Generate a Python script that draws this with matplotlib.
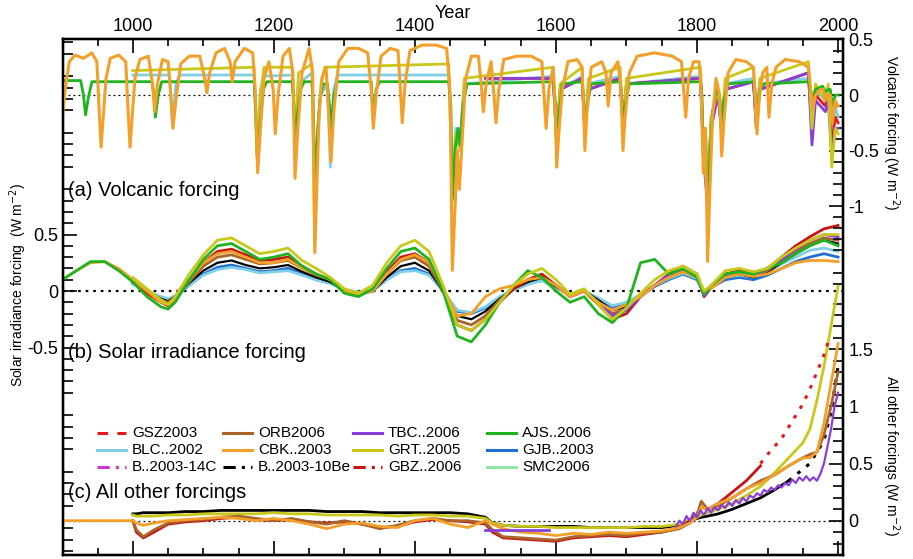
import matplotlib
matplotlib.use('Agg')
import matplotlib.pyplot as plt
from matplotlib.lines import Line2D

plt.rcParams['font.family'] = ['Liberation Sans', 'DejaVu Sans']

# ---------------- colours ----------------
C_GSZ = '#e41a1c'
C_ORB = '#a8642a'
C_TBC = '#8a3fd8'
C_AJS = '#1fb41f'
C_BLC = '#7fcfe6'
C_CBK = '#f3a02a'
C_GRT = '#c8c81a'
C_GJB = '#1f6fd0'
C_B14 = '#cc33cc'
C_B10 = '#000000'
C_GBZ = '#c81414'
C_SMC = '#8fe6a8'

# ================= (a) volcanic forcing (W m-2) =================
vol_cbk_yr = [900, 904, 910, 918, 930, 942, 949, 952, 955, 958, 962, 968, 980, 990, 993, 996, 999, 1003, 1010, 1022,
              1028, 1031, 1035, 1042, 1050, 1054, 1057, 1061, 1068, 1080, 1095, 1102, 1105, 1109, 1118, 1130, 1138,
              1141, 1145, 1158, 1170, 1174, 1177, 1181, 1186, 1193, 1199, 1202, 1206, 1213, 1222, 1227, 1230, 1234,
              1240, 1250, 1255, 1258, 1261, 1264, 1268, 1274, 1278, 1281, 1285, 1292, 1305, 1320, 1333, 1338, 1341,
              1345, 1352, 1365, 1376, 1379, 1382, 1386, 1393, 1410, 1430, 1445, 1450, 1453, 1457, 1460, 1463, 1467,
              1472, 1480, 1490, 1494, 1497, 1501, 1508, 1512, 1515, 1519, 1526, 1545, 1565, 1580, 1583, 1586, 1590,
              1596, 1599, 1601, 1604, 1609, 1617, 1630, 1637, 1639, 1641, 1644, 1650, 1665, 1671, 1674, 1678, 1688,
              1692, 1695, 1698, 1704, 1715, 1740, 1765, 1778, 1781, 1784, 1788, 1795, 1803, 1806, 1809, 1812, 1815,
              1818, 1822, 1827, 1832, 1835, 1838, 1844, 1855, 1870, 1880, 1883, 1885, 1888, 1893, 1899, 1902, 1906,
              1912, 1925, 1945, 1958, 1962, 1964, 1968, 1975, 1979, 1982, 1985, 1989, 1992, 1996, 2000]
vol_cbk = [-0.22, 0.05, 0.3, 0.36, 0.33, 0.38, 0.3, -0.1, -0.47, -0.2, 0.15, 0.33, 0.36, 0.3, -0.1, -0.47, -0.2, 0.15,
           0.32, 0.35, 0.1, -0.15, 0.1, 0.32, 0.3, 0.0, -0.3, -0.05, 0.28, 0.35, 0.35, 0.15, 0.02, 0.2, 0.38, 0.42, 0.3,
           0.12, 0.3, 0.42, 0.38, 0.0, -0.7, -0.3, 0.15, 0.3, 0.05, -0.35, 0.0, 0.35, 0.42, 0.2, -0.75, -0.3,
           0.2, 0.42, 0.2, -1.42, -0.8, -0.2, 0.15, 0.25, -0.2, -0.6, -0.15, 0.3, 0.42, 0.42, 0.38, 0.05, -0.3,
           0.0, 0.35, 0.42, 0.4, 0.1, -0.25, 0.1, 0.4, 0.45, 0.45, 0.42, 0.0, -1.58, -1.0, -0.5, -0.85, -0.4,
           0.15, 0.35, 0.35, 0.1, -0.15, 0.1, 0.3, 0.0, -0.25, 0.05, 0.32, 0.35, 0.35, 0.3, 0.0, -0.3, 0.05,
           0.25, -0.1, -0.65, -0.35, 0.05, 0.3, 0.32, 0.25, -0.1, -0.5, -0.15, 0.25, 0.3, 0.2, -0.1, 0.2, 0.3,
           0.05, -0.5, -0.2, 0.2, 0.35, 0.38, 0.35, 0.3, 0.05, -0.2, 0.15, 0.3, 0.3, 0.0, -0.7, -0.3, -1.5,
           -0.9, -0.2, 0.15, 0.0, -0.55, -0.25, 0.2, 0.32, 0.3, 0.25, -0.05, -0.35, -0.05, 0.2, 0.25, -0.2, 0.1,
           0.25, 0.32, 0.3, 0.25, 0.0, -0.12, 0.0, 0.05, 0.05, -0.05, 0.0, 0.0, -0.25, -0.05, -0.1]

vol_ajs_yr = [900, 926, 930, 933, 937, 942, 1027, 1030, 1032, 1036, 1041, 1172, 1174, 1177, 1180, 1185, 1190, 1226, 1228,
              1230, 1233, 1238, 1243, 1254, 1256, 1258, 1261, 1265, 1270, 1276, 1279, 1281, 1285, 1290, 1338, 1341, 1345,
              1350, 1448, 1451, 1453, 1457, 1461, 1464, 1468, 1474, 1596, 1599, 1601, 1604, 1609, 1637, 1639, 1641, 1644,
              1650, 1691, 1693, 1695, 1698, 1704, 1805, 1807, 1809, 1812, 1815, 1818, 1822, 1828, 1832, 1835, 1838, 1844,
              1881, 1883, 1885, 1889, 1895, 1958, 1962, 1964, 1968, 1978, 1982, 1986, 1989, 1992, 1996, 2000]
vol_ajs = [0.13, 0.13, 0.0, -0.18, -0.02, 0.12, 0.12, 0.0, -0.2, 0.0, 0.12, 0.12, -0.1, -0.65, -0.3, 0.05, 0.12, 0.12,
           -0.05, -0.45, -0.2, 0.05, 0.12, 0.12, -0.1, -0.8, -0.45, -0.05, 0.1, 0.1, -0.1, -0.3, 0.0, 0.12, 0.12, -0.2,
           0.05, 0.12, 0.12, -0.1, -0.95, -0.5, -0.3, -0.45, -0.1, 0.1, 0.12, -0.05, -0.45, -0.2, 0.1, 0.12, -0.05,
           -0.35, -0.1, 0.1, 0.12, 0.0, -0.3, -0.1, 0.1, 0.12, 0.0, -0.55, -0.3, -1.0, -0.6, -0.15, 0.05, 0.0, -0.25,
           -0.05, 0.1, 0.12, 0.0, -0.2, 0.05, 0.1, 0.12, 0.02, -0.05, 0.05, 0.08, 0.03, 0.05, 0.05, -0.1, 0.0, 0.0]

vol_blc_yr = [1000, 1052, 1056, 1061, 1066, 1172, 1176, 1181, 1186, 1226, 1230, 1235, 1254, 1258, 1262, 1266, 1276, 1280,
              1285, 1290, 1448, 1453, 1458, 1464, 1470, 1596, 1601, 1606, 1637, 1641, 1646, 1691, 1695, 1700, 1805, 1809,
              1815, 1820, 1830, 1835, 1840, 1880, 1884, 1889, 1958, 1963, 1968, 1982, 1986, 1991, 1996, 2000]
vol_blc = [0.18, 0.18, -0.28, 0.1, 0.18, 0.18, -0.5, 0.05, 0.17, 0.18, -0.4, 0.1, 0.2, -0.9, -0.3, 0.0, 0.1, -0.65,
           0.05, 0.18, 0.18, -0.75, -0.3, -0.4, 0.1, 0.17, -0.45, 0.05, 0.17, -0.35, 0.1, 0.17, -0.3, 0.1, 0.17, -0.5,
           -0.85, -0.2, 0.0, -0.3, 0.1, 0.15, -0.25, 0.1, 0.15, -0.22, 0.05, -0.05, 0.0, -0.32, -0.1, -0.2]

vol_grt_yr = [1000, 1172, 1176, 1181, 1186, 1226, 1230, 1235, 1254, 1258, 1262, 1267, 1272, 1448, 1453, 1458, 1464, 1470,
              1596, 1601, 1606, 1637, 1641, 1646, 1691, 1695, 1700, 1805, 1809, 1815, 1820, 1830, 1835, 1840, 1880, 1884,
              1889, 1958, 1963, 1968, 1982, 1986, 1991, 1996, 2000]
vol_grt = [0.22, 0.25, -0.55, 0.0, 0.25, 0.25, -0.35, 0.2, 0.28, -1.35, -0.4, 0.1, 0.25, 0.28, -0.9, -0.35, -0.5, 0.15,
           0.25, -0.5, 0.1, 0.25, -0.35, 0.15, 0.25, -0.3, 0.15, 0.25, -0.45, -0.95, -0.2, 0.05, -0.3, 0.15, 0.25, -0.3,
           0.15, 0.3, -0.3, 0.1, -0.05, 0.1, -0.65, -0.3, -0.35]

vol_tbc_yr = [1500, 1596, 1601, 1606, 1637, 1641, 1646, 1691, 1695, 1700, 1805, 1809, 1815, 1820, 1830, 1835, 1840, 1880,
              1884, 1889, 1958, 1963, 1968, 1982, 1986, 1991, 1996, 2000]
vol_tbc = [0.15, 0.15, -0.4, 0.05, 0.15, -0.3, 0.05, 0.15, -0.3, 0.1, 0.15, -0.55, -1.0, -0.3, 0.0, -0.35, 0.05, 0.12,
           -0.3, 0.05, 0.2, -0.45, -0.05, -0.15, -0.05, -0.52, -0.3, -0.3]

vol_gsz_yr = [1500, 1596, 1601, 1606, 1637, 1641, 1646, 1691, 1695, 1700, 1805, 1809, 1815, 1820, 1830, 1835, 1840, 1880,
              1884, 1889, 1958, 1963, 1968, 1982, 1986, 1991, 1996, 2000]
vol_gsz = [0.15, 0.15, -0.35, 0.05, 0.15, -0.3, 0.05, 0.15, -0.25, 0.1, 0.15, -0.5, -0.9, -0.25, 0.0, -0.3, 0.05, 0.12,
           -0.25, 0.05, 0.2, -0.32, 0.0, -0.1, 0.0, -0.45, -0.2, -0.25]

# ================= (b) solar irradiance forcing (W m-2) =================
sol_yr = [900, 920, 940, 960, 980, 1000, 1020, 1040, 1050, 1060, 1080, 1100, 1120, 1140, 1160, 1180, 1200, 1220, 1240,
          1260, 1280, 1300, 1320, 1340, 1360, 1380, 1400, 1420, 1440, 1460, 1480, 1500, 1520, 1540, 1560, 1580, 1600,
          1620, 1640, 1660, 1680, 1700, 1720, 1740, 1760, 1780, 1800, 1810, 1820, 1840, 1860, 1880, 1900, 1920,
          1940, 1960, 1980, 2000]
NA5 = [None] * 5
sol_cbk = [0.1, 0.18, 0.25, 0.26, 0.2, 0.1, 0.0, -0.1, -0.12, -0.08, 0.1, 0.25, 0.33, 0.35, 0.3, 0.25, 0.25, 0.28, 0.2,
           0.15, 0.1, 0.0, -0.03, 0.0, 0.15, 0.28, 0.32, 0.25, 0.02, -0.22, -0.2, -0.05, 0.02, 0.05, 0.1, 0.12, 0.05,
           -0.05, 0.0, -0.1, -0.17, -0.12, -0.05, 0.05, 0.12, 0.17, 0.12, 0.0, 0.02, 0.12, 0.15, 0.13, 0.15, 0.2,
           0.25, 0.27, 0.27, 0.26]
sol_ajs = [0.1, 0.18, 0.26, 0.26, 0.18, 0.08, -0.05, -0.14, -0.16, -0.1, 0.1, 0.28, 0.4, 0.42, 0.35, 0.28, 0.3, 0.33, 0.22,
           0.15, 0.1, -0.02, -0.05, 0.02, 0.2, 0.35, 0.38, 0.28, 0.0, -0.4, -0.45, -0.3, -0.1, 0.05, 0.18, 0.12, 0.0,
           -0.1, -0.05, -0.2, -0.28, -0.15, 0.25, 0.28, 0.15, 0.2, 0.12, -0.03, 0.05, 0.15, 0.17, 0.15, 0.2, 0.25,
           0.33, 0.4, 0.45, 0.4]
sol_grt = NA5 + [0.12, 0.02, -0.08, -0.12, -0.05, 0.15, 0.32, 0.45, 0.47, 0.4, 0.33, 0.35, 0.38, 0.27,
                 0.2, 0.12, 0.02, -0.02, 0.05, 0.25, 0.4, 0.45, 0.35, 0.05, -0.3, -0.35, -0.25, -0.1, 0.05, 0.15, 0.2, 0.1,
                 -0.03, 0.02, -0.12, -0.25, -0.15, -0.02, 0.1, 0.18, 0.22, 0.15, 0.0, 0.05, 0.18, 0.2, 0.17, 0.2, 0.3,
                 0.38, 0.45, 0.5, 0.5]
sol_gbz = NA5 + [0.08, -0.02, -0.1, -0.13, -0.08, 0.1, 0.25, 0.35, 0.37, 0.32, 0.27, 0.28, 0.3, 0.22,
                 0.15, 0.1, 0.0, -0.03, 0.0, 0.17, 0.3, 0.33, 0.25, 0.0, -0.3, -0.35, -0.25, -0.1, 0.02, 0.1, 0.15, 0.05,
                 -0.05, 0.0, -0.12, -0.25, -0.2, -0.05, 0.05, 0.15, 0.22, 0.15, -0.05, 0.03, 0.15, 0.18, 0.15, 0.2, 0.3,
                 0.4, 0.48, 0.55, 0.58]
sol_orb = NA5 + [0.08, 0.0, -0.08, -0.1, -0.06, 0.08, 0.22, 0.3, 0.32, 0.28, 0.24, 0.25, 0.27, 0.2,
                 0.14, 0.1, 0.01, -0.02, 0.0, 0.15, 0.27, 0.3, 0.22, 0.0, -0.26, -0.3, -0.22, -0.08, 0.02, 0.1, 0.14, 0.05,
                 -0.04, 0.0, -0.1, -0.2, -0.16, -0.04, 0.05, 0.13, 0.2, 0.13, -0.03, 0.03, 0.13, 0.16, 0.13, 0.18, 0.27,
                 0.35, 0.42, 0.47, 0.45]
sol_b10 = NA5 + [0.08, 0.0, -0.07, -0.09, -0.05, 0.07, 0.18, 0.25, 0.27, 0.23, 0.2, 0.21, 0.23, 0.17,
                 0.12, 0.08, 0.01, -0.02, 0.0, 0.12, 0.22, 0.25, 0.18, 0.0, -0.22, -0.25, -0.18, -0.07, 0.02, 0.08, 0.12, 0.04,
                 -0.04, 0.0, -0.08, -0.17, -0.14, -0.04, 0.05, 0.12, 0.18, 0.12, -0.02, 0.03, 0.12, 0.15, 0.12, 0.17, 0.25,
                 0.33, 0.4, 0.45, 0.42]
sol_gjb = NA5 + [0.07, 0.0, -0.06, -0.08, -0.05, 0.05, 0.15, 0.21, 0.23, 0.2, 0.17, 0.18, 0.2, 0.15,
                 0.1, 0.07, 0.01, -0.02, 0.0, 0.1, 0.18, 0.2, 0.15, 0.0, -0.18, -0.2, -0.15, -0.06, 0.01, 0.06, 0.1, 0.03,
                 -0.03, 0.0, -0.07, -0.14, -0.12, -0.04, 0.04, 0.1, 0.15, 0.1, -0.02, 0.03, 0.1, 0.12, 0.1, 0.14, 0.2,
                 0.26, 0.3, 0.33, 0.3]
sol_blc = NA5 + [0.06, 0.0, -0.05, -0.07, -0.04, 0.05, 0.14, 0.19, 0.21, 0.19, 0.16, 0.17, 0.18, 0.14,
                 0.1, 0.07, 0.01, -0.01, 0.0, 0.1, 0.17, 0.18, 0.14, 0.0, -0.17, -0.19, -0.14, -0.05, 0.01, 0.06, 0.09, 0.03,
                 -0.03, 0.0, -0.06, -0.13, -0.1, -0.03, 0.05, 0.11, 0.16, 0.11, -0.01, 0.04, 0.12, 0.14, 0.12, 0.17, 0.24,
                 0.3, 0.36, 0.38, 0.35]
sol_tbc = [None] * 37 + [-0.05, 0.0, -0.1, -0.22, -0.17, -0.05, 0.05, 0.14, 0.2, 0.13, -0.04, 0.03, 0.14, 0.17, 0.14,
                         0.2, 0.28, 0.37, 0.45, 0.5, 0.48]

# ================= (c) all other forcings (W m-2) =================
oth_yr = [900, 1000, 1005, 1015, 1030, 1050, 1075, 1100, 1125, 1150, 1175, 1200, 1225, 1250, 1275, 1300, 1325, 1350,
          1375, 1400, 1425, 1450, 1475, 1500, 1510, 1525, 1550, 1575, 1600, 1625, 1650, 1675, 1700, 1725, 1750, 1775,
          1790, 1800, 1806, 1815, 1830, 1850, 1870, 1890, 1910, 1930, 1950, 1960, 1970, 1980, 1990, 2000]
oth_cbk = [0.0, 0.0, -0.02, -0.04, -0.02, 0.0, 0.01, 0.02, 0.03, 0.02, 0.0, 0.02, 0.0, -0.03, -0.07, -0.03, -0.02, -0.05,
           -0.06, 0.0, 0.02, -0.03, -0.06, 0.0, -0.03, -0.07, -0.1, -0.11, -0.13, -0.11, -0.12, -0.1, -0.11, -0.1, -0.09,
           -0.06, -0.02, 0.03, 0.12, 0.1, 0.15, 0.2, 0.28, 0.33, 0.4, 0.48, 0.55, 0.55, 0.6, 0.85, 1.2, 1.55]
oth_orb = [None, 0.0, -0.08, -0.14, -0.08, -0.02, 0.0, 0.01, 0.03, 0.04, 0.02, 0.0, 0.02, -0.01, -0.03, 0.0, -0.03, -0.07,
           -0.04, 0.0, 0.02, 0.0, 0.0, -0.02, -0.08, -0.14, -0.15, -0.16, -0.17, -0.14, -0.13, -0.12, -0.13, -0.11, -0.1,
           -0.07, -0.02, 0.05, 0.17, 0.1, 0.13, 0.2, 0.28, 0.35, 0.4, 0.48, 0.55, 0.58, 0.6, 0.75, 1.0, 1.3]
oth_gbz = [None, 0.0, -0.1, -0.15, -0.1, -0.03, -0.01, 0.0, 0.02, 0.03, 0.01, 0.0, 0.01, -0.01, -0.02, -0.01, -0.03,
           -0.06, -0.05, -0.01, 0.01, 0.0, -0.01, -0.03, -0.1, -0.15, -0.16, -0.17, -0.18, -0.15, -0.14, -0.13, -0.14,
           -0.12, -0.1, -0.06, 0.0, 0.06, 0.12, 0.1, 0.15, 0.25, 0.35, 0.48] + [None] * 8
oth_b10 = [None, 0.06, 0.06, 0.07, 0.07, 0.07, 0.08, 0.08, 0.09, 0.09, 0.09, 0.09, 0.09, 0.09, 0.08, 0.08, 0.08, 0.07,
           0.07, 0.07, 0.07, 0.07, 0.06, 0.03, -0.02, -0.04, -0.05, -0.05, -0.05, -0.05, -0.06, -0.06, -0.06, -0.06,
           -0.06, -0.04, 0.0, 0.02, 0.03, 0.04, 0.06, 0.1, 0.15, 0.2, 0.27, 0.35] + [None] * 6
oth_b10_late_yr = [1930, 1950, 1960, 1970, 1980, 1990, 2000]
oth_b10_late = [0.35, 0.45, 0.5, 0.6, 0.7, 0.95, 1.35]
oth_grt = [None, 0.05, 0.04, 0.04, 0.04, 0.05, 0.05, 0.06, 0.06, 0.06, 0.06, 0.07, 0.06, 0.06, 0.05, 0.05, 0.05, 0.05,
           0.04, 0.05, 0.05, 0.04, 0.04, 0.02, -0.02, -0.04, -0.05, -0.05, -0.06, -0.06, -0.06, -0.06, -0.06, -0.05,
           -0.05, -0.03, 0.01, 0.03, 0.05, 0.07, 0.1, 0.15, 0.22, 0.3, 0.42, 0.55, 0.68, 0.8, 1.05, 1.35, 1.7, 2.05]
oth_gsz_yr = [1890, 1900, 1910, 1920, 1930, 1940, 1950, 1960, 1970, 1980, 1988]
oth_gsz = [0.5, 0.58, 0.65, 0.72, 0.82, 0.92, 1.02, 1.15, 1.3, 1.45, 1.6]
oth_tbc_early_yr = [1500, 1590]
oth_tbc_early = [-0.08, -0.08]
oth_tbc_yr = [1770, 1775, 1780, 1785, 1790, 1795, 1800, 1805, 1810, 1815, 1820, 1825, 1830, 1835, 1840, 1845, 1850,
              1855, 1860, 1865, 1870, 1875, 1880, 1885, 1890, 1895, 1900, 1905, 1910, 1915, 1920, 1925, 1930, 1935,
              1940, 1945, 1950, 1955, 1960, 1965, 1970, 1975, 1980, 1985, 1990, 1995, 2000]
oth_tbc = [-0.05, 0.0, -0.03, 0.04, 0.0, 0.07, 0.03, 0.09, 0.05, 0.11, 0.07, 0.12, 0.09, 0.14, 0.11, 0.16, 0.13, 0.18,
           0.15, 0.2, 0.17, 0.22, 0.2, 0.24, 0.22, 0.27, 0.25, 0.29, 0.27, 0.31, 0.29, 0.33, 0.31, 0.36, 0.33, 0.38,
           0.35, 0.39, 0.35, 0.38, 0.35, 0.41, 0.5, 0.65, 0.8, 1.0, 1.12]

# ---------------- legend ----------------
leg_labels = ['GSZ2003', 'ORB2006', 'TBC..2006', 'AJS..2006',
              'BLC..2002', 'CBK..2003', 'GRT..2005', 'GJB..2003',
              'B..2003-14C', 'B..2003-10Be', 'GBZ..2006', 'SMC2006']
leg_colors = [C_GSZ, C_ORB, C_TBC, C_AJS, C_BLC, C_CBK, C_GRT, C_GJB, C_B14, C_B10, C_GBZ, C_SMC]
DD = (0, (4, 2, 1, 2, 1, 2))
DASH = (0, (3.5, 3))
leg_styles = [DASH, '-', '-', '-', '-', '-', '-', '-', DD, DD, DD, '-']

# ================= figure =================
W, H = 913, 559
L, R, T, B = 63, 843, 39, 555
fig = plt.figure(figsize=(W / 100, H / 100), dpi=100)
ax_s = fig.add_axes([L / W, 1 - B / H, (R - L) / W, (B - T) / H])
ax_v = ax_s.twinx()
ax_o = ax_s.twinx()
ax_s.set_xlim(901, 2007)
ax_s.set_ylim(-2.336, 2.230)
ax_v.set_ylim(-4.144, 0.5045)
ax_o.set_ylim(-0.300, 4.214)


def pl(ax, x, y, c, lw=2.0, ls='-', z=2):
    xx = [a for a, b in zip(x, y) if b is not None]
    yy = [b for b in y if b is not None]
    ax.plot(xx, yy, color=c, lw=lw, ls=ls, zorder=z, solid_joinstyle='round')


# (a)
pl(ax_v, vol_blc_yr, vol_blc, C_BLC)
pl(ax_v, vol_gsz_yr, vol_gsz, C_GSZ)
pl(ax_v, vol_tbc_yr, vol_tbc, C_TBC)
pl(ax_v, vol_grt_yr, vol_grt, C_GRT)
pl(ax_v, vol_ajs_yr, vol_ajs, C_AJS)
pl(ax_v, vol_cbk_yr, vol_cbk, C_CBK, z=3, lw=2.2)
# (b)
pl(ax_s, sol_yr, sol_gjb, C_GJB)
pl(ax_s, sol_yr, sol_blc, C_BLC)
pl(ax_s, sol_yr, sol_b10, C_B10, lw=1.6)
pl(ax_s, sol_yr, sol_orb, C_ORB)
pl(ax_s, sol_yr, sol_gbz, C_GBZ)
pl(ax_s, sol_yr, sol_tbc, C_TBC)
pl(ax_s, sol_yr, sol_cbk, C_CBK)
pl(ax_s, sol_yr, sol_ajs, C_AJS)
pl(ax_s, sol_yr, sol_grt, C_GRT)
# (c)
pl(ax_o, oth_yr, oth_b10, C_B10)
pl(ax_o, oth_b10_late_yr, oth_b10_late, C_B10, ls=(0, (1.2, 2.5)), lw=2.2)
pl(ax_o, oth_yr, oth_grt, C_GRT)
pl(ax_o, oth_yr, oth_gbz, C_GBZ)
pl(ax_o, oth_yr, oth_orb, C_ORB)
pl(ax_o, oth_yr, oth_cbk, C_CBK)
pl(ax_o, oth_tbc_early_yr, oth_tbc_early, C_TBC)
pl(ax_o, oth_tbc_yr, oth_tbc, C_TBC, lw=1.6)
pl(ax_o, oth_gsz_yr, oth_gsz, C_GSZ, ls=(0, (1.2, 2.5)), lw=2.2)

ax_v.axhline(0, color='k', lw=0.9, ls=(0, (1.5, 2.5)), zorder=1)
ax_s.axhline(0, color='k', lw=1.6, ls=(0, (1.2, 2.2)), zorder=1)
ax_o.axhline(0, color='k', lw=0.9, ls=(0, (1.5, 2.5)), zorder=1)

# x axis
ax_s.set_xticks([1000, 1200, 1400, 1600, 1800, 2000])
ax_s.set_xticks([y for y in range(950, 2001, 50) if y % 200 != 0], minor=True)
ax_s.tick_params(axis='x', which='both', direction='in', top=True, bottom=True, labeltop=True, labelbottom=False,
                 labelsize=13, width=1.2, pad=3)
ax_s.tick_params(axis='x', which='major', length=10)
ax_s.tick_params(axis='x', which='minor', length=5)
ax_s.xaxis.set_label_position('top')
ax_s.set_xlabel('Year', fontsize=13, labelpad=0)

# left axis (solar)
s_minor = [v / 10 for v in range(-23, 23) if v % 5 != 0]
ax_s.set_yticks([-0.5, 0, 0.5])
ax_s.set_yticklabels(['-0.5', '0', '0.5'])
ax_s.set_yticks(s_minor, minor=True)
ax_s.tick_params(axis='y', which='both', direction='in', left=True, right=False, labelsize=13, width=1.2)
ax_s.tick_params(axis='y', which='major', length=10)
ax_s.tick_params(axis='y', which='minor', length=7)

# right axis volcanic
v_minor = [v / 10 for v in range(-17, 5) if v % 5 != 0]
ax_v.set_yticks([-1, -0.5, 0, 0.5])
ax_v.set_yticklabels(['-1', '-0.5', '0', '0.5'])
ax_v.set_yticks(v_minor, minor=True)
ax_v.tick_params(axis='y', which='both', direction='in', labelsize=13, width=1.2, pad=4)
ax_v.tick_params(axis='y', which='major', length=10)
ax_v.tick_params(axis='y', which='minor', length=7)

# right axis other
o_minor = [v / 10 for v in range(-3, 20) if v % 5 != 0]
ax_o.set_yticks([0, 0.5, 1, 1.5])
ax_o.set_yticklabels(['0', '0.5', '1', '1.5'])
ax_o.set_yticks(o_minor, minor=True)
ax_o.tick_params(axis='y', which='both', direction='in', labelsize=13, width=1.2, pad=4)
ax_o.tick_params(axis='y', which='major', length=10)
ax_o.tick_params(axis='y', which='minor', length=7)

for a in (ax_s, ax_v, ax_o):
    for sp in a.spines.values():
        sp.set_linewidth(1.6)

fig.text(18 / W, 1 - 285 / H, 'Solar irradiance forcing  (W m$^{-2}$)', rotation=90, ha='center', va='center', fontsize=10)
fig.text(891 / W, 1 - 133 / H, 'Volcanic forcing (W m$^{-2}$)', rotation=270, ha='center', va='center', fontsize=10)
fig.text(891 / W, 1 - 455 / H, 'All other forcings (W m$^{-2}$)', rotation=270, ha='center', va='center', fontsize=10)

fig.text(68 / W, 1 - 190 / H, '(a) Volcanic forcing', ha='left', va='center', fontsize=14.5)
fig.text(68 / W, 1 - 352 / H, '(b) Solar irradiance forcing', ha='left', va='center', fontsize=14.5)
fig.text(68 / W, 1 - 492 / H, '(c) All other forcings', ha='left', va='center', fontsize=14.5)

# manual legend in figure pixels
col_x = [132, 258, 388, 522]
row_y = [433, 450, 467]
for i, (lab, c, ls) in enumerate(zip(leg_labels, leg_colors, leg_styles)):
    r, k = divmod(i, 4)
    x0 = col_x[k]
    y0 = 1 - row_y[r] / H
    fig.add_artist(Line2D([(x0 - 35) / W, (x0 - 6) / W], [y0, y0], color=c, ls=ls, lw=2.2))
    fig.text(x0 / W, y0, lab, ha='left', va='center', fontsize=11)

fig.savefig('out.png', dpi=100)
